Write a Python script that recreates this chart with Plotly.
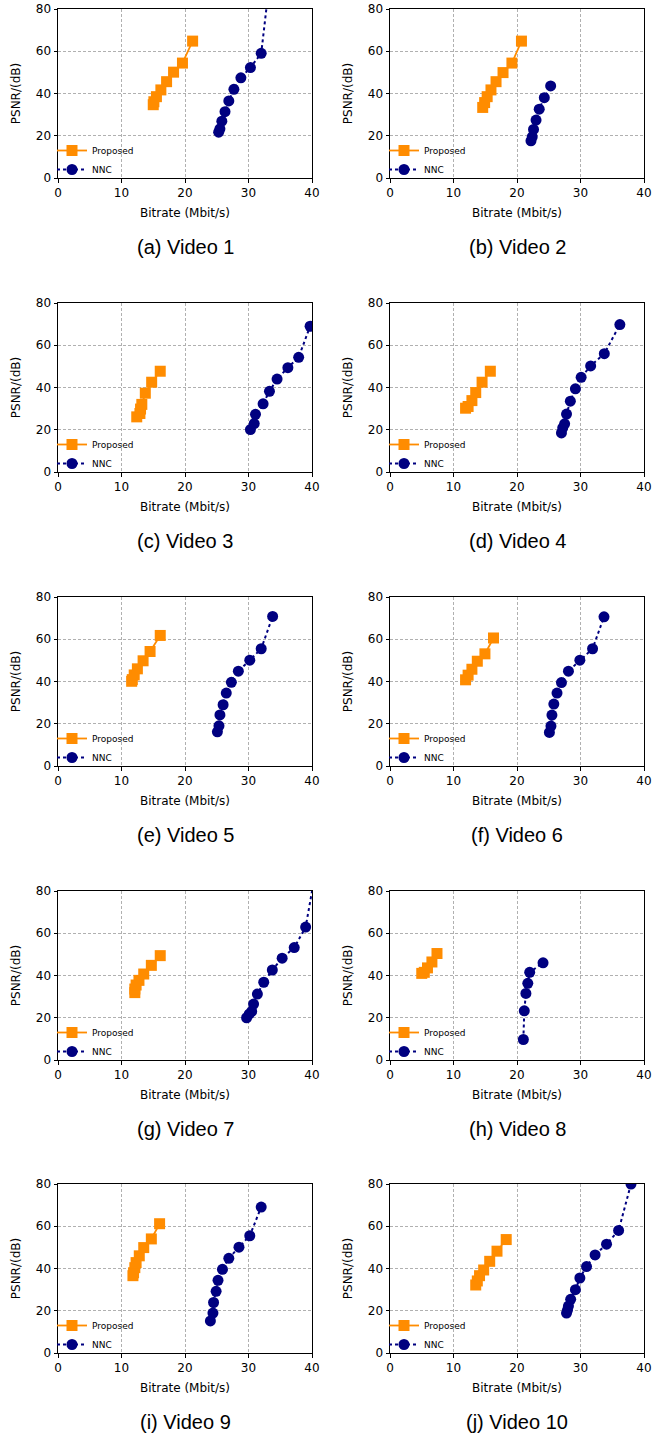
import plotly.graph_objects as go

W, H = 664, 1435

captions = ["(a) Video 1", "(b) Video 2", "(c) Video 3", "(d) Video 4", "(e) Video 5",
            "(f) Video 6", "(g) Video 7", "(h) Video 8", "(i) Video 9", "(j) Video 10"]

prop_x = [
    [15.0, 15.1, 15.5, 16.2, 17.1, 18.2, 19.6, 21.2],
    [14.6, 14.9, 15.3, 15.9, 16.7, 17.8, 19.2, 20.7],
    [12.4, 12.9, 13.0, 13.2, 13.75, 14.75, 16.1],
    [11.9, 12.3, 12.9, 13.5, 14.5, 15.8],
    [11.6, 11.7, 12.0, 12.5, 13.4, 14.5, 16.1],
    [11.9, 12.3, 12.9, 13.75, 14.95, 16.3],
    [12.1, 12.1, 12.3, 12.75, 13.5, 14.7, 16.1],
    [5.0, 5.4, 5.9, 6.6, 7.4],
    [11.8, 11.9, 12.1, 12.3, 12.8, 13.5, 14.7, 16.0],
    [13.5, 13.75, 14.1, 14.75, 15.7, 16.85, 18.3],
]
prop_y = [
    [34.7, 36.1, 38.5, 41.7, 45.6, 50.1, 54.4, 64.8],
    [33.4, 35.7, 38.5, 41.7, 45.6, 49.9, 54.4, 64.8],
    [26.1, 27.7, 29.8, 32.0, 37.3, 42.5, 47.7],
    [30.2, 31.0, 33.8, 37.6, 42.5, 47.7],
    [40.1, 40.9, 43.1, 46.0, 49.8, 54.2, 61.8],
    [40.8, 43.0, 45.8, 49.6, 53.1, 60.6],
    [31.9, 33.6, 35.5, 37.7, 40.7, 44.8, 49.4],
    [41.0, 41.5, 43.6, 46.4, 50.4],
    [36.6, 38.0, 40.4, 42.8, 46.0, 49.9, 54.0, 61.2],
    [32.2, 34.1, 36.6, 39.3, 43.4, 48.2, 53.7],
]
nnc_x = [
    [25.3, 25.5, 25.8, 26.3, 26.9, 27.7, 28.8, 30.3, 32.0, 33.2],
    [22.2, 22.4, 22.6, 23.0, 23.5, 24.3, 25.3],
    [30.3, 30.9, 31.1, 32.3, 33.3, 34.5, 36.2, 37.9, 39.7],
    [27.0, 27.2, 27.5, 27.8, 28.4, 29.2, 30.1, 31.6, 33.75, 36.2],
    [25.1, 25.35, 25.5, 26.0, 26.5, 27.3, 28.4, 30.2, 32.0, 33.8],
    [25.1, 25.35, 25.5, 25.8, 26.3, 27.0, 28.1, 29.9, 31.9, 33.7],
    [29.7, 30.1, 30.5, 30.8, 31.4, 32.4, 33.75, 35.3, 37.2, 39.0, 40.6],
    [21.0, 21.15, 21.4, 21.7, 22.0, 24.1],
    [24.0, 24.4, 24.5, 24.9, 25.2, 25.9, 26.9, 28.5, 30.2, 32.0],
    [27.8, 27.95, 28.1, 28.45, 29.2, 29.9, 30.95, 32.3, 34.1, 36.0, 37.95],
]
nnc_y = [
    [21.7, 23.3, 26.9, 31.4, 36.5, 42.0, 47.4, 52.3, 59.0, 90.0],
    [17.6, 19.5, 23.0, 27.4, 32.6, 38.0, 43.6],
    [20.1, 22.9, 27.3, 32.3, 38.2, 44.0, 49.4, 54.3, 69.0],
    [18.5, 20.9, 22.8, 27.4, 33.5, 39.4, 44.8, 50.2, 56.0, 69.8],
    [16.2, 19.0, 24.2, 29.0, 34.5, 39.6, 44.9, 50.1, 55.5, 70.8],
    [15.9, 18.9, 24.1, 29.3, 34.5, 39.5, 44.9, 50.1, 55.5, 70.6],
    [20.0, 21.7, 23.0, 26.5, 31.2, 36.8, 42.6, 48.2, 53.2, 62.9, 90.0],
    [9.7, 23.3, 31.5, 36.3, 41.5, 46.0],
    [15.2, 18.9, 23.9, 29.2, 34.4, 39.6, 44.8, 50.1, 55.5, 69.1],
    [18.9, 20.3, 22.2, 25.4, 30.0, 35.5, 40.9, 46.4, 51.5, 58.0, 80.0],
]

x_ticks = [0, 10, 20, 30, 40]
y_ticks = [0, 20, 40, 60, 80]

ORANGE = "#FF8C00"
NAVY = "#000080"
TICKFONT = dict(family="DejaVu Sans", size=12, color="black")
TITLEFONT = dict(family="DejaVu Sans", size=12, color="black")

# pixel layout of each panel
col_left = [58, 390]
plot_w = 254
row_top = [9, 303, 597, 891, 1184]
plot_h = 169

fig = go.Figure()
layout = dict(
    template="none",
    width=W, height=H, margin=dict(l=0, r=0, t=0, b=0, autoexpand=False),
    paper_bgcolor="white", plot_bgcolor="white", showlegend=True,
)
annotations = []

for i in range(10):
    r, c = divmod(i, 2)
    n = i + 1
    xa = "x" if n == 1 else f"x{n}"
    ya = "y" if n == 1 else f"y{n}"
    lg = "legend" if n == 1 else f"legend{n}"
    x0 = col_left[c]
    y0 = row_top[r]
    fig.add_trace(go.Scatter(
        x=prop_x[i], y=prop_y[i], mode="lines+markers", name="Proposed",
        line=dict(color=ORANGE, width=1.8),
        marker=dict(symbol="square", size=11, color=ORANGE, line=dict(width=0)),
        xaxis=xa, yaxis=ya, legend=lg,
    ))
    fig.add_trace(go.Scatter(
        x=nnc_x[i], y=nnc_y[i], mode="lines+markers", name="NNC",
        line=dict(color=NAVY, width=2, dash="dot"),
        marker=dict(symbol="circle", size=11, color=NAVY, line=dict(width=0)),
        xaxis=xa, yaxis=ya, legend=lg,
    ))
    axcommon = dict(
        showline=True, linecolor="black", linewidth=1, mirror=True,
        ticks="outside", ticklen=3.5, tickwidth=0.8, tickcolor="black",
        tickfont=TICKFONT, showgrid=True, gridcolor="#b0b0b0", gridwidth=0.8,
        griddash="3px,2px", zeroline=False, fixedrange=True, automargin=False,
    )
    layout["xaxis" if n == 1 else f"xaxis{n}"] = dict(
        axcommon, domain=[x0 / W, (x0 + plot_w) / W], range=[0, 40],
        tickvals=x_ticks, anchor=ya,
        title=dict(text="Bitrate (Mbit/s)", font=TITLEFONT, standoff=9),
    )
    layout["yaxis" if n == 1 else f"yaxis{n}"] = dict(
        axcommon, domain=[1 - (y0 + plot_h) / H, 1 - y0 / H], range=[0, 80],
        tickvals=y_ticks, anchor=xa,
        title=dict(text="PSNR/(dB)", font=TITLEFONT, standoff=12),
    )
    layout[lg] = dict(
        x=(x0 - 6) / W, y=1 - (y0 + 127) / H, xanchor="left", yanchor="top",
        bgcolor="rgba(255,255,255,0)", borderwidth=0,
        font=dict(family="DejaVu Sans", size=9, color="black"),
        itemwidth=30, tracegroupgap=0,
    )
    annotations.append(dict(
        text=captions[i], xref="paper", yref="paper",
        x=(x0 + plot_w / 2) / W, y=1 - (y0 + 238) / H,
        xanchor="center", yanchor="middle", showarrow=False,
        font=dict(family="Liberation Sans", size=20, color="black"),
    ))

layout["annotations"] = annotations
fig.update_layout(**layout)
fig.write_html(
    "out.html",
    config={"displayModeBar": False},
    post_script="document.body.style.margin='0';document.body.style.overflow='hidden';",
)
